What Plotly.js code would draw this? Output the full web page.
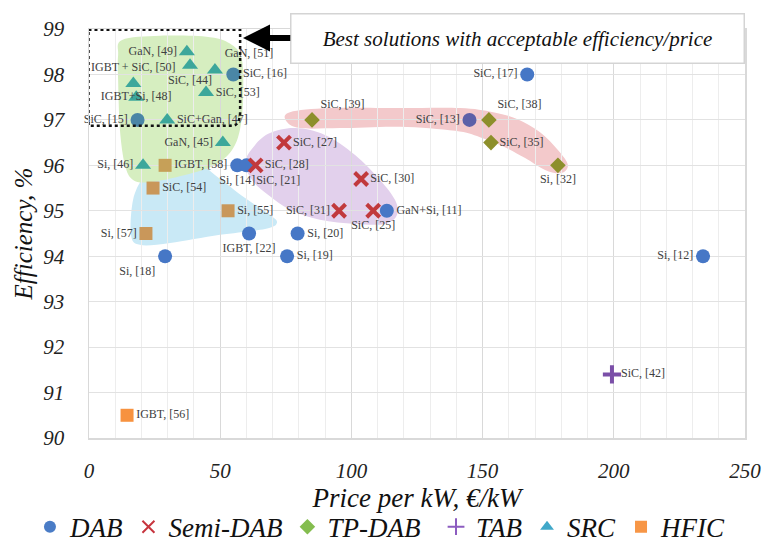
<!DOCTYPE html>
<html>
<head>
<meta charset="utf-8">
<script src="https://cdn.plot.ly/plotly-3.0.1.min.js"></script>
<style>html,body{margin:0;padding:0;background:#fff}#chart{width:768px;height:544px}</style>
</head>
<body>
<div id="chart"></div>
<script>
// ---- DAB ----
const dabX = [167, 55, 18.5, 56.5, 60, 61, 29, 75.5, 79.5, 113.5, 145, 234];
const dabY = [98, 98, 97, 96, 96, 94.5, 94, 94, 94.5, 95, 97, 94];
const dabText = ["SiC, [17]", "SiC, [16]", "SiC, [15]", "Si, [14]", "SiC, [21]", "IGBT, [22]", "Si, [18]", "Si, [19]", "Si, [20]", "GaN+Si, [11]", "SiC, [13]", "Si, [12]"];
// ---- Semi-DAB ----
const semiX = [74.3, 63.5, 103.7, 95.3, 108.3];
const semiY = [96.5, 96, 95.7, 95, 95];
const semiText = ["SiC, [27]", "SiC, [28]", "SiC, [30]", "SiC, [31]", "SiC, [25]"];
// ---- TP-DAB ----
const tpX = [85, 152.4, 153.2, 178.7];
const tpY = [97, 97, 96.5, 96];
const tpText = ["SiC, [39]", "SiC, [38]", "SiC, [35]", "Si, [32]"];
// ---- TAB ----
const tabX = [199.3];
const tabY = [91.4];
const tabText = ["SiC, [42]"];
// ---- SRC ----
const srcX = [37.3, 38.5, 48, 16.9, 18, 44.6, 29.8, 51, 20.6];
const srcY = [98.5, 98.2, 98.1, 97.8, 97.5, 97.6, 97, 96.5, 96];
const srcText = ["GaN, [49]", "SiC, [44]", "GaN, [51]", "IGBT + SiC, [50]", "IGBT+Si, [48]", "SiC, [53]", "SiC+Gan, [47]", "GaN, [45]", "Si, [46]"];
// ---- HFIC ----
const hficX = [29, 24.4, 53, 21.7, 14.5];
const hficY = [96, 95.5, 95, 94.5, 90.5];
const hficText = ["IGBT, [58]", "SiC, [54]", "Si, [55]", "Si, [57]", "IGBT, [56]"];

const seriesNames = ["DAB", "Semi-DAB", "TP-DAB", "TAB", "SRC", "HFIC"];
const xTicks = [0, 50, 100, 150, 200, 250];
const yTicks = [90, 91, 92, 93, 94, 95, 96, 97, 98, 99];

// label placement (style)
const dabPos = ["middle left", "middle right", "middle left", "bottom center", "bottom right", "bottom center", "bottom left", "middle right", "middle right", "middle right", "middle left", "middle left"];
const semiPos = ["middle right", "middle right", "middle right", "middle left", "bottom center"];
const tpPos = ["top right", "top right", "middle right", "bottom center"];
const srcPos = ["middle left", "bottom center", "top right", "top center", "middle center", "middle right", "middle right", "middle left", "middle left"];
const hficPos = ["middle right", "middle right", "middle right", "middle left", "middle right"];

// colours as they appear in plot (tinted by region) and legend colours
const dabCol = ["#4677c6", "#4a86a6", "#4a86a6", "#4677c6", "#4677c6", "#4677c6", "#4677c6", "#4677c6", "#4677c6", "#4677c6", "#5c60a8", "#4677c6"];
const hficCol = ["#c6a058", "#c9975a", "#c9975a", "#c9975a", "#f7923f"];
const legendCol = ["#4a7cc6", "#c7363f", "#84bd4f", "#8c5cc0", "#40a8c9", "#f79646"];
const legendSym = ["circle", "x-thin", "diamond", "cross-thin", "triangle-up", "square"];

const serif = "Liberation Serif, Times New Roman, serif";
const labelFont = {family: serif, size: 12, color: "#404040"};

function pt(x, y, text, pos, marker) {
  return {type: "scatter", mode: "markers+text", x: x, y: y, text: text, textposition: pos,
    textfont: labelFont, marker: marker, showlegend: false, hoverinfo: "x+y+text", cliponaxis: false};
}

const traces = [
  pt(dabX, dabY, dabText, dabPos, {symbol: "circle", size: 14, color: dabCol}),
  pt(semiX, semiY, semiText, semiPos, {symbol: "x-thin", size: 13, color: "#c1393c", line: {color: "#c1393c", width: 4}}),
  pt(tpX, tpY, tpText, tpPos, {symbol: "diamond", size: 12, color: "#8d8f2b"}),
  pt(tabX, tabY, tabText, ["middle right"], {symbol: "cross-thin", size: 13, color: "#7b4fa8", line: {color: "#7b4fa8", width: 4}}),
  pt(srcX, srcY, srcText, srcPos, {symbol: "triangle-up", size: 14, color: "#3ca79b"}),
  pt(hficX, hficY, hficText, hficPos, {symbol: "square", size: 13, color: hficCol})
];
// legend-only entries (first three in legend, last three in legend2)
seriesNames.forEach((n, i) => {
  const thin = legendSym[i].indexOf("thin") >= 0;
  traces.push({type: "scatter", mode: "markers", x: [null], y: [null], name: n, showlegend: true,
    legend: i < 3 ? "legend" : "legend2",
    marker: {symbol: legendSym[i], size: 10, color: legendCol[i], line: thin ? {color: legendCol[i], width: 4} : {width: 0}}});
});

// region blobs (decoration outlines, in axis units)
const greenBlobX = [12.6, 27.1, 46.1, 54.5, 58.3, 58.7, 57.5, 54.5, 48.0, 36.6, 23.2, 16.8, 13.7, 11.8, 11.1, 11.1];
const greenBlobY = [98.76, 98.85, 98.82, 98.65, 98.32, 97.44, 96.78, 96.34, 96.01, 95.79, 95.63, 95.68, 96.01, 96.78, 97.88, 98.43];
const blueBlobX = [25.9, 38.5, 48.0, 59.5, 69.0, 71.6, 67.1, 49.9, 30.9, 19.4, 16.0, 16.8, 20.6];
const blueBlobY = [95.94, 96.16, 95.79, 95.28, 94.91, 94.73, 94.60, 94.47, 94.29, 94.25, 94.47, 95.24, 95.72];
const purpleBlobX = [59.5, 63.3, 69.0, 78.5, 89.9, 101.4, 110.9, 116.6, 117.4, 112.8, 101.4, 88.0, 76.6, 68.2, 62.1];
const purpleBlobY = [96.07, 96.45, 96.71, 96.82, 96.67, 96.23, 95.68, 95.24, 94.91, 94.71, 94.71, 94.80, 95.02, 95.35, 95.68];
const pinkBlobX = [76.6, 91.8, 118.5, 141.4, 154.0, 163.1, 171.9, 178.7, 182.5, 179.9, 173.8, 166.2, 158.5, 149.0, 139.5, 118.5, 95.7, 80.4, 75.1];
const pinkBlobY = [97.17, 97.26, 97.26, 97.26, 97.17, 97.02, 96.73, 96.34, 96.01, 95.83, 95.90, 96.16, 96.40, 96.62, 96.76, 96.85, 96.82, 96.82, 96.98];

function blobPath(xs, ys) {
  const n = xs.length;
  const P = i => [xs[(i + n) % n], ys[(i + n) % n]];
  let d = "M" + xs[0] + "," + ys[0];
  for (let i = 0; i < n; i++) {
    const p0 = P(i - 1), p1 = P(i), p2 = P(i + 1), p3 = P(i + 2);
    const c1 = [p1[0] + (p2[0] - p0[0]) / 6, p1[1] + (p2[1] - p0[1]) / 6];
    const c2 = [p2[0] - (p3[0] - p1[0]) / 6, p2[1] - (p3[1] - p1[1]) / 6];
    d += " C" + c1[0] + "," + c1[1] + " " + c2[0] + "," + c2[1] + " " + p2[0] + "," + p2[1];
  }
  return d + " Z";
}
function blob(xs, ys, col) {
  return {type: "path", xref: "x", yref: "y", path: blobPath(xs, ys), fillcolor: col, line: {width: 0}, layer: "below"};
}

const shapes = [
  blob(pinkBlobX, pinkBlobY, "#f3c9cb"),
  blob(purpleBlobX, purpleBlobY, "#e2d0ec"),
  blob(blueBlobX, blueBlobY, "#c9e9f6"),
  blob(greenBlobX, greenBlobY, "#d6eec0"),
  {type: "path", xref: "x", yref: "y", layer: "above",
   path: "M-0.2,98.985 L57.6,98.985 L57.6,97.2 Q57.6,96.87 54.5,96.87 L-0.2,96.87 Z",
   line: {color: "#111", width: 2.5, dash: "dot"}, fillcolor: "rgba(0,0,0,0)"}
];

const legendFont = {family: serif, size: 27, style: "italic", color: "#111"};
const layout = {
  width: 768, height: 544,
  margin: {l: 89, r: 23, t: 29, b: 106, autoexpand: false},
  paper_bgcolor: "#fff", plot_bgcolor: "#fff",
  font: {family: serif, color: "#222"},
  showlegend: true,
  legend: {orientation: "h", x: -0.09, xanchor: "left", y: -0.218, yanchor: "middle",
    font: legendFont, itemsizing: "constant", bgcolor: "rgba(0,0,0,0)", tracegroupgap: 0},
  legend2: {orientation: "h", x: 0.529, xanchor: "left", y: -0.218, yanchor: "middle",
    font: legendFont, itemsizing: "constant", bgcolor: "rgba(0,0,0,0)", tracegroupgap: 0},
  xaxis: {range: [0, 250], tickvals: xTicks, ticktext: xTicks.map(String),
    showgrid: true, gridcolor: "#d9d9d9", gridwidth: 1,
    minor: {dtick: 10, showgrid: true, gridcolor: "#ededed", gridwidth: 1},
    showline: true, mirror: true, linecolor: "#d9d9d9", linewidth: 1.5,
    ticks: "outside", ticklen: 13, tickcolor: "rgba(0,0,0,0)",
    tickfont: {family: serif, size: 21, style: "italic", color: "#222"},
    zeroline: false, automargin: false,
    title: {text: "Price per kW, €/kW", standoff: 5, font: {family: serif, size: 27, style: "italic", color: "#111"}}},
  yaxis: {range: [90, 99], tickvals: yTicks, ticktext: yTicks.map(String),
    showgrid: true, gridcolor: "#e2e2e2", gridwidth: 1,
    showline: true, mirror: true, linecolor: "#d9d9d9", linewidth: 1.5,
    ticks: "outside", ticklen: 19, tickcolor: "rgba(0,0,0,0)",
    tickfont: {family: serif, size: 21, style: "italic", color: "#222"},
    zeroline: false, automargin: false,
    title: {text: "Efficiency, %", standoff: 3, font: {family: serif, size: 25, style: "italic", color: "#111"}}},
  shapes: shapes,
  annotations: [{
    xref: "x", yref: "y", x: 58.7, y: 98.8, axref: "pixel", ayref: "pixel", ax: 274, ay: 0,
    text: "Best solutions with acceptable efficiency/price",
    font: {family: serif, size: 21, style: "italic", color: "#111"},
    showarrow: true, arrowhead: 2, arrowsize: 0.9, arrowwidth: 6, arrowcolor: "#000", standoff: 0,
    bgcolor: "#fff", bordercolor: "#d4d4d4", borderwidth: 1.5, borderpad: 6,
    width: 440, height: 36, align: "center"
  }]
};

Plotly.newPlot("chart", traces, layout, {displayModeBar: false, staticPlot: true});
</script>
</body>
</html>
